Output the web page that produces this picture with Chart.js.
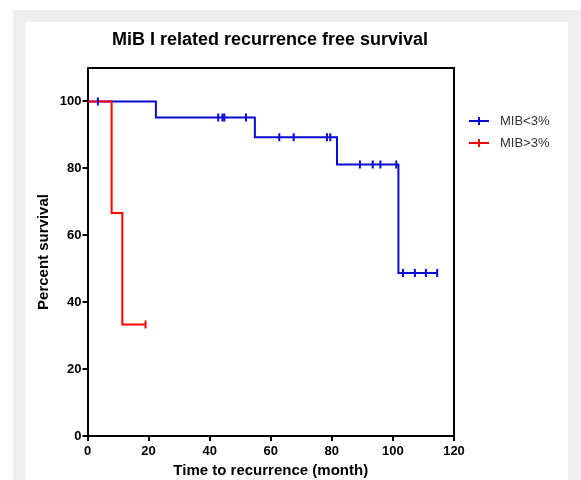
<!DOCTYPE html>
<html>
<head>
<meta charset="utf-8">
<script src="https://cdn.jsdelivr.net/npm/chart.js@4"></script>
<style>
  html, body { margin: 0; padding: 0; background: #ffffff; }
  #wrap { position: absolute; left: 0; top: 0; width: 581px; height: 480px; }
</style>
</head>
<body>
<div id="wrap"><canvas id="c" width="581" height="480"></canvas></div>
<script>
// ---- data ----
const chartTitle = "MiB I related recurrence free survival";
const xTitle = "Time to recurrence (month)";
const yTitle = "Percent survival";
const xTicks = [0, 20, 40, 60, 80, 100, 120];
const yTicks = [0, 20, 40, 60, 80, 100];
const seriesNames = ["MIB<3%", "MIB>3%"];
const seriesColors = ["#0a0ad2", "#ff0000"];

// step curve: time of each step and survival after it
const lowTimes = [0, 22.4, 54.8, 81.7, 101.8, 114.5];
const lowSurv  = [100, 95.24, 89.29, 81.17, 48.7, 48.7];
// censored marks
const lowCensTimes = [3.4, 42.8, 44.2, 44.8, 51.9, 62.8, 67.5, 78.4, 79.5, 89.2, 93.4, 95.9, 101.1, 103.3, 107.2, 110.8, 114.5];
const lowCensSurv  = [100, 95.24, 95.24, 95.24, 95.24, 89.29, 89.29, 89.29, 89.29, 81.17, 81.17, 81.17, 81.17, 48.7, 48.7, 48.7, 48.7];

const highTimes = [0, 7.9, 11.4, 19.0];
const highSurv  = [100, 66.67, 33.33, 33.33];
const highCensTimes = [19.0];
const highCensSurv  = [33.33];

const zip = (xs, ys) => xs.map((x, i) => ({ x: x, y: ys[i] }));
const FONT = '"Liberation Sans", Arial, sans-serif';

const bgPlugin = {
  id: 'bg',
  beforeDraw(chart) {
    const ctx = chart.ctx;
    ctx.save();
    ctx.fillStyle = '#ffffff';
    ctx.fillRect(0, 0, 581, 480);
    ctx.fillStyle = '#eeeeee';
    ctx.fillRect(13, 10, 568, 470);
    ctx.fillStyle = '#ffffff';
    ctx.fillRect(25, 22, 543, 458);
    ctx.restore();
  },
  afterDatasetsDraw(chart) {
    const a = chart.chartArea;
    const ctx = chart.ctx;
    ctx.save();
    ctx.strokeStyle = '#000000';
    ctx.lineWidth = 2;
    ctx.beginPath();
    ctx.moveTo(a.left, a.top);
    ctx.lineTo(a.right, a.top);
    ctx.lineTo(a.right, a.bottom);
    ctx.stroke();
    ctx.restore();
  },
  afterDraw(chart) {
    const ctx = chart.ctx;
    ctx.save();
    // title
    ctx.font = 'bold 18px ' + FONT;
    ctx.fillStyle = '#000000';
    ctx.textAlign = 'center';
    ctx.textBaseline = 'middle';
    ctx.fillText(chartTitle, 270, 40);
    // legend
    ctx.textAlign = 'left';
    ctx.font = '13px ' + FONT;
    seriesNames.forEach((name, i) => {
      const y = 121 + i * 22;
      ctx.strokeStyle = seriesColors[i];
      ctx.lineWidth = 2;
      ctx.beginPath();
      ctx.moveTo(469, y); ctx.lineTo(489, y);
      ctx.moveTo(479, y - 4); ctx.lineTo(479, y + 4);
      ctx.stroke();
      ctx.fillStyle = '#333333';
      ctx.fillText(name, 500, y);
    });
    ctx.restore();
  }
};

const lineDs = (label, data, color, order) => ({
  label: label, data: data, borderColor: color, backgroundColor: color, order: order,
  borderWidth: 2, stepped: 'before', showLine: true, pointRadius: 0, fill: false
});
const censDs = (label, data, color, order) => ({
  label: label, data: data, borderColor: color, backgroundColor: color, order: order,
  showLine: false, pointStyle: 'line', rotation: 90, pointRadius: 4, pointBorderWidth: 2
});

new Chart(document.getElementById('c'), {
  type: 'scatter',
  data: {
    datasets: [
      lineDs(seriesNames[0], zip(lowTimes, lowSurv), seriesColors[0], 3),
      censDs(seriesNames[0] + ' censored', zip(lowCensTimes, lowCensSurv), seriesColors[0], 0),
      lineDs(seriesNames[1], zip(highTimes, highSurv), seriesColors[1], 2),
      censDs(seriesNames[1] + ' censored', zip(highCensTimes, highCensSurv), seriesColors[1], 1)
    ]
  },
  plugins: [bgPlugin],
  options: {
    responsive: false,
    animation: false,
    devicePixelRatio: 1,
    layout: { padding: { left: 0, right: 127, top: 68, bottom: 0 } },
    plugins: {
      legend: { display: false },
      tooltip: { enabled: false },
      title: { display: false }
    },
    scales: {
      x: {
        type: 'linear', min: 0, max: 120,
        afterBuildTicks: (s) => { s.ticks = xTicks.map(v => ({ value: v })); },
        afterFit: (s) => { s.height = 44; },
        grid: { display: true, drawOnChartArea: false, drawTicks: true, tickLength: 5, color: '#000000', lineWidth: 2 },
        border: { display: true, color: '#000000', width: 2 },
        ticks: { color: '#000000', padding: 3, maxRotation: 0, font: { family: FONT, size: 13, weight: 'bold' } },
        title: { display: true, text: xTitle, color: '#000000', padding: { top: 2, bottom: 0 },
          font: { family: FONT, size: 15, weight: 'bold' } }
      },
      y: {
        type: 'linear', min: 0, max: 110,
        afterBuildTicks: (s) => { s.ticks = yTicks.map(v => ({ value: v })); },
        afterFit: (s) => { s.width = 87.5; },
        grid: { display: true, drawOnChartArea: false, drawTicks: true, tickLength: 5, color: '#000000', lineWidth: 2 },
        border: { display: true, color: '#000000', width: 2 },
        ticks: { color: '#000000', padding: 1, font: { family: FONT, size: 13, weight: 'bold' } },
        title: { display: true, text: yTitle, color: '#000000', padding: { top: 35, bottom: 0 },
          font: { family: FONT, size: 15, weight: 'bold' } }
      }
    }
  }
});
</script>
</body>
</html>
